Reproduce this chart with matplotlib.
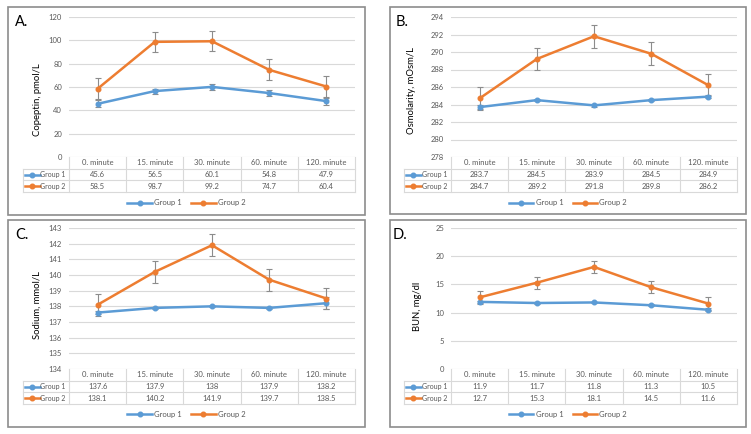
import matplotlib
matplotlib.use('Agg')
import matplotlib.pyplot as plt
from matplotlib.patches import Rectangle
from matplotlib.lines import Line2D
import matplotlib.transforms as mtransforms
import numpy as np

plt.rcParams['font.family'] = ['Lato', 'DejaVu Sans']

# ---------------- data ----------------
timepoints = ['0. minute', '15. minute', '30. minute', '60. minute', '120. minute']
series_names = ['Group 1', 'Group 2']

copeptin_g1 = [45.6, 56.5, 60.1, 54.8, 47.9]
copeptin_g2 = [58.5, 98.7, 99.2, 74.7, 60.4]
copeptin_g1_err = [3.0, 2.2, 2.5, 2.5, 3.0]
copeptin_g2_err = [9.0, 8.8, 8.5, 9.0, 8.8]
copeptin_ticks = [0, 20, 40, 60, 80, 100, 120]

osm_g1 = [283.7, 284.5, 283.9, 284.5, 284.9]
osm_g2 = [284.7, 289.2, 291.8, 289.8, 286.2]
osm_g1_err = [0.25, 0.15, 0.15, 0.15, 0.2]
osm_g2_err = [1.3, 1.3, 1.3, 1.3, 1.25]
osm_ticks = [278, 280, 282, 284, 286, 288, 290, 292, 294]

sodium_g1 = [137.6, 137.9, 138.0, 137.9, 138.2]
sodium_g2 = [138.1, 140.2, 141.9, 139.7, 138.5]
sodium_g1_err = [0.1, 0.05, 0.05, 0.05, 0.4]
sodium_g2_err = [0.7, 0.7, 0.7, 0.7, 0.7]
sodium_ticks = [134, 135, 136, 137, 138, 139, 140, 141, 142, 143]

bun_g1 = [11.9, 11.7, 11.8, 11.3, 10.5]
bun_g2 = [12.7, 15.3, 18.1, 14.5, 11.6]
bun_g1_err = [0.2, 0.15, 0.15, 0.2, 0.25]
bun_g2_err = [1.2, 1.1, 1.1, 1.1, 1.1]
bun_ticks = [0, 5, 10, 15, 20, 25]

# ---------------- style ----------------
W, H = 751, 434
BLUE = '#5B9BD5'
ORANGE = '#ED7D31'
GRID = '#D9D9D9'
TICKC = '#595959'
BORDER = '#8C8C8C'
ERRC = '#8C8C8C'

fig = plt.figure(figsize=(W / 100, H / 100), dpi=100)


def fx(x):
    return x / W


def fy(y):
    return 1 - y / H


def panel(border, plot, label_left, letter, letter_xy, ylabel, ylabel_xy,
          ticks, g1, g2, e1, e2, legend_y):
    bl, bt, br, bb = border
    fig.patches.append(Rectangle((fx(bl), fy(bb)), fx(br - bl), (bb - bt) / H,
                                 transform=fig.transFigure, fill=False,
                                 edgecolor=BORDER, linewidth=1.2, zorder=0))
    pl, pt, pr, pb = plot
    ax = fig.add_axes([fx(pl), fy(pb), fx(pr - pl), (pb - pt) / H])
    x = np.arange(len(timepoints))
    ax.set_xlim(-0.5, len(timepoints) - 0.5)
    ax.set_ylim(ticks[0], ticks[-1])
    ax.set_yticks(ticks)
    ax.set_yticklabels([str(t) for t in ticks])
    ax.tick_params(axis='y', length=0, pad=5, labelsize=5.5, labelcolor=TICKC)
    ax.set_xticks([])
    for s in ax.spines.values():
        s.set_visible(False)
    for t in ticks:
        ax.axhline(t, color=GRID, linewidth=0.8, zorder=0)

    ax.errorbar(x, g1, yerr=e1, color=BLUE, ecolor=ERRC, elinewidth=0.8,
                capsize=2, capthick=0.8, marker='o', markersize=3.3,
                linewidth=1.8, zorder=3)
    ax.errorbar(x, g2, yerr=e2, color=ORANGE, ecolor=ERRC, elinewidth=0.8,
                capsize=2, capthick=0.8, marker='o', markersize=3.3,
                linewidth=1.8, zorder=3)

    # data table below the plot
    ph = pb - pt
    pw = pr - pl
    rowh = 11.7 / ph
    trans = mtransforms.blended_transform_factory(ax.transData, ax.transAxes)
    lab_left = (label_left - pl) / pw
    ta = ax.transAxes
    ax.add_line(Line2D([lab_left, 1], [-rowh, -rowh], transform=ta, color=GRID,
                       lw=0.8, clip_on=False))
    for k in (2, 3):
        ax.add_line(Line2D([lab_left, 1], [-k * rowh, -k * rowh], transform=ta,
                           color=GRID, lw=0.8, clip_on=False))
    ax.add_line(Line2D([lab_left, lab_left], [-rowh, -3 * rowh], transform=ta,
                       color=GRID, lw=0.8, clip_on=False))
    for i in range(len(timepoints) + 1):
        ax.add_line(Line2D([i - 0.5, i - 0.5], [0, -3 * rowh], transform=trans,
                           color=GRID, lw=0.8, clip_on=False))
    for i, tp in enumerate(timepoints):
        ax.text(i, -0.5 * rowh, tp, transform=trans, ha='center', va='center',
                fontsize=5.5, color=TICKC)
        ax.text(i, -1.5 * rowh, f'{g1[i]:g}', transform=trans, ha='center',
                va='center', fontsize=5.5, color=TICKC)
        ax.text(i, -2.5 * rowh, f'{g2[i]:g}', transform=trans, ha='center',
                va='center', fontsize=5.5, color=TICKC)
    # row labels with legend keys
    kx0 = lab_left + 1.5 / pw
    kx1 = lab_left + 17 / pw
    for r, (name, c) in enumerate(zip(series_names, [BLUE, ORANGE])):
        yy = -(1.5 + r) * rowh
        ax.add_line(Line2D([kx0, kx1], [yy, yy], transform=ta, color=c, lw=1.8,
                           clip_on=False))
        ax.add_line(Line2D([(kx0 + kx1) / 2], [yy], transform=ta, color=c,
                           marker='o', markersize=3.3, clip_on=False))
        ax.text(kx1 + 0.5 / pw, yy, name, transform=ta, ha='left',
                va='center', fontsize=5.0, color=TICKC)

    # legend
    handles = [Line2D([], [], color=BLUE, lw=1.8, marker='o', markersize=3.3),
               Line2D([], [], color=ORANGE, lw=1.8, marker='o', markersize=3.3)]
    ly = (pb - legend_y) / ph
    lx = ((bl + br) / 2 - pl) / pw
    leg = ax.legend(handles, series_names, loc='center', bbox_to_anchor=(lx, ly),
                    ncol=2, frameon=False, fontsize=5.5, handlelength=3.2,
                    columnspacing=1.2, handletextpad=0.3)
    for t in leg.get_texts():
        t.set_color(TICKC)

    fig.text(fx(letter_xy[0]), fy(letter_xy[1]), letter, fontsize=10.5,
             ha='left', va='center', color='black')
    fig.text(fx(ylabel_xy[0]), fy(ylabel_xy[1]), ylabel, fontsize=6.8,
             rotation=90, ha='center', va='center', color='black')
    return ax


panel((8, 7, 365, 215), (69, 17, 355, 157), 23, 'A.', (15, 22),
      'Copeptin, pmol/L', (37, 100), copeptin_ticks,
      copeptin_g1, copeptin_g2, copeptin_g1_err, copeptin_g2_err, 203)
panel((390, 7, 746, 214), (451, 17, 737, 157), 404, 'B.', (396, 22),
      'Osmolarity, mOsm/L', (411, 90), osm_ticks,
      osm_g1, osm_g2, osm_g1_err, osm_g2_err, 203)
panel((8, 220, 365, 427), (69, 228, 355, 369), 23, 'C.', (15, 235),
      'Sodium, mmol/L', (37, 305), sodium_ticks,
      sodium_g1, sodium_g2, sodium_g1_err, sodium_g2_err, 414)
panel((390, 220, 746, 427), (451, 228, 737, 369), 404, 'D.', (393, 235),
      'BUN, mg/dl', (417, 306), bun_ticks,
      bun_g1, bun_g2, bun_g1_err, bun_g2_err, 414)

fig.savefig('out.png', dpi=100)
